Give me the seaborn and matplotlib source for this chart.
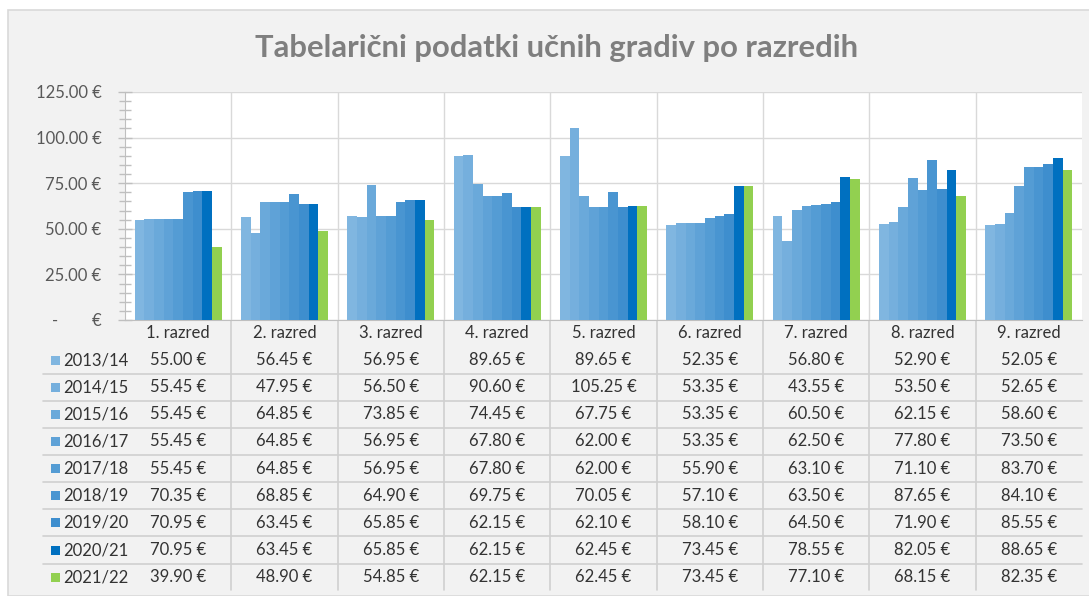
import pandas as pd
import seaborn as sns
import matplotlib.pyplot as plt
from matplotlib.patches import Rectangle
from matplotlib.ticker import MultipleLocator

razredi = ['1. razred', '2. razred', '3. razred', '4. razred', '5. razred',
           '6. razred', '7. razred', '8. razred', '9. razred']
leta = ['2013/14', '2014/15', '2015/16', '2016/17', '2017/18',
        '2018/19', '2019/20', '2020/21', '2021/22']

v_2013 = [55.00, 56.45, 56.95, 89.65, 89.65, 52.35, 56.80, 52.90, 52.05]
v_2014 = [55.45, 47.95, 56.50, 90.60, 105.25, 53.35, 43.55, 53.50, 52.65]
v_2015 = [55.45, 64.85, 73.85, 74.45, 67.75, 53.35, 60.50, 62.15, 58.60]
v_2016 = [55.45, 64.85, 56.95, 67.80, 62.00, 53.35, 62.50, 77.80, 73.50]
v_2017 = [55.45, 64.85, 56.95, 67.80, 62.00, 55.90, 63.10, 71.10, 83.70]
v_2018 = [70.35, 68.85, 64.90, 69.75, 70.05, 57.10, 63.50, 87.65, 84.10]
v_2019 = [70.95, 63.45, 65.85, 62.15, 62.10, 58.10, 64.50, 71.90, 85.55]
v_2020 = [70.95, 63.45, 65.85, 62.15, 62.45, 73.45, 78.55, 82.05, 88.65]
v_2021 = [39.90, 48.90, 54.85, 62.15, 62.45, 73.45, 77.10, 68.15, 82.35]
vrednosti = [v_2013, v_2014, v_2015, v_2016, v_2017, v_2018, v_2019, v_2020, v_2021]

barve = ['#80b6e0', '#75afdd', '#6aa9da', '#5fa2d7', '#549cd4',
         '#4995d1', '#3e8ece', '#0070c0', '#92d050']

rows = []
for leto, vals in zip(leta, vrednosti):
    for r, v in zip(razredi, vals):
        rows.append({'razred': r, 'leto': leto, 'cena': v})
df = pd.DataFrame(rows)

sns.set_style("white")
plt.rcParams['font.family'] = ['Lato', 'DejaVu Sans']

W, H = 1089, 596
fig = plt.figure(figsize=(W / 100, H / 100), dpi=100)
fig.patch.set_facecolor('white')


def fx(x):
    return x / W


def fy(y):
    return 1 - y / H


# chart frame
frame = Rectangle((fx(8), 0), 1, fy(10), transform=fig.transFigure,
                  facecolor='#f2f2f2', edgecolor='#d9d9d9', lw=1.2, zorder=-5)
fig.add_artist(frame)

fig.text(fx(557), fy(48), 'Tabelarični podatki učnih gradiv po razredih',
         ha='center', va='center', fontsize=22.3, fontweight='bold', color='#7f7f7f')

left, right, top, bottom = 125, 1082, 92, 320
ax = fig.add_axes([fx(left), fy(bottom), fx(right - left), (bottom - top) / H])
ax.set_zorder(2)
ax.set_facecolor('white')

sns.barplot(data=df, x='razred', y='cena', hue='leto', palette=barve, width=0.82,
            saturation=1, linewidth=0, legend=False, ax=ax, zorder=3)

ax.set_xlim(-0.5, 8.5)
ax.set_ylim(0, 125)
ax.set_xlabel('')
ax.set_ylabel('')
ax.set_xticks([])
ax.yaxis.set_major_locator(MultipleLocator(25))
ax.yaxis.set_minor_locator(MultipleLocator(5))
ax.set_yticks([0, 25, 50, 75, 100, 125])
ax.set_yticklabels(['-        €', '25.00 €', '50.00 €', '75.00 €', '100.00 €', '125.00 €'])
ax.tick_params(axis='y', which='major', direction='inout', length=10, width=1,
               color='#bfbfbf', labelsize=12, labelcolor='#595959', pad=12, left=True)
ax.tick_params(axis='y', which='minor', direction='inout', length=8, width=1,
               color='#bfbfbf', left=True)
ax.grid(axis='y', color='#d9d9d9', lw=1, zorder=0)
ax.set_axisbelow(True)
for k in range(1, 9):
    ax.axvline(k - 0.5, color='#d9d9d9', lw=1, zorder=0)
for s in ['top', 'right']:
    ax.spines[s].set_visible(False)
ax.spines['left'].set_color('#bfbfbf')
ax.spines['bottom'].set_color('#bfbfbf')

# data table below
col_w = (right - left) / 9
for k in range(1, 9):
    x = fx(left + k * col_w)
    fig.add_artist(plt.Line2D([x, x], [fy(bottom), fy(590)], color='#d0d0d0', lw=1.2))

row_y0, row_h = 360, 27.15
for i in range(1, 9):
    y = fy(row_y0 + (i - 0.5) * row_h)
    fig.add_artist(plt.Line2D([fx(43), fx(right)], [y, y], color='#d0d0d0', lw=1.2))

for j, r in enumerate(razredi):
    fig.text(fx(left + (j + 0.5) * col_w), fy(333), r, ha='center', va='center',
             fontsize=12, color='#333333')

for i, (leto, vals) in enumerate(zip(leta, vrednosti)):
    yc = row_y0 + i * row_h
    fig.add_artist(Rectangle((fx(51), fy(yc + 4.5)), fx(9), 9 / H,
                             transform=fig.transFigure, facecolor=barve[i],
                             edgecolor='none'))
    fig.text(fx(63), fy(yc), leto, ha='left', va='center', fontsize=12, color='#333333')
    for j, v in enumerate(vals):
        fig.text(fx(left + (j + 0.5) * col_w), fy(yc), f'{v:.2f} €', ha='center',
                 va='center', fontsize=12, color='#333333')

plt.savefig('out.png', dpi=100)
